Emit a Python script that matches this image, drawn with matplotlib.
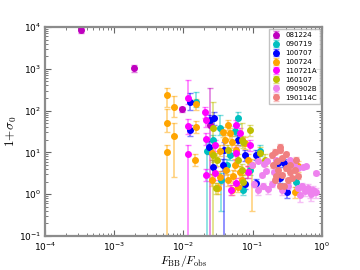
import matplotlib
matplotlib.use("Agg")
import matplotlib.pyplot as plt
import numpy as np

plt.rcParams['mathtext.fontset'] = 'cm'

# ---- data: F_BB/F_obs, 1+sigma0, lower err, upper err ----
grb_names = ['081224', '090719', '100707', '100724', '110721A', '160107', '090902B', '190114C']
grb_colors = ['#bf00bf', '#00bfbf', '#0000ff', '#ffa500', '#ff00ff', '#bfbf00', '#ee82ee', '#f08080']

x_081224 = [3.3e-4, 1.9e-3, 0.0094, 0.024]
y_081224 = [8500, 1050, 110, 45]
lo_081224 = [1200, 200, 15, 44.99]
up_081224 = [1200, 200, 15, 300]

x_090719 = [0.0154, 0.0218, 0.0335, 0.061, 0.0552, 0.0468, 0.0345, 0.0908, 0.127, 0.42, 0.0266, 0.072, 0.042]
y_090719 = [161, 11, 38, 68, 33, 8.6, 2.2, 3.8, 11, 2.0, 19.8, 1.26, 5.0]
lo_090719 = [40, 10.99, 12, 20, 8, 2, 1.8, 1, 3, 0.5, 5, 0.3, 1.5]
up_090719 = [120, 10, 40, 25, 10, 3, 1, 1.5, 4, 0.6, 6, 0.4, 2]

x_100707 = [0.0124, 0.0124, 0.0246, 0.0235, 0.0275, 0.0266, 0.0371, 0.0383, 0.0769, 0.0769,
            0.111, 0.111, 0.230, 0.281, 0.246, 0.31, 0.061]
y_100707 = [161, 34, 60, 13.4, 66, 4.5, 5.0, 11.4, 8.7, 1.8, 8.7, 1.85, 5.6, 5.6, 2.4, 1.13, 19.8]
lo_100707 = [60, 10, 15, 4, 20, 1.5, 1.5, 11.39, 2.5, 0.5, 2, 0.4, 1.2, 1.2, 0.5, 0.3, 5]
up_100707 = [100, 12, 20, 5, 25, 2, 2, 6, 3, 0.6, 3, 0.5, 1.5, 1.5, 0.6, 0.3, 6]

x_100724 = [0.00575, 0.00575, 0.00575, 0.0073, 0.0073, 0.0151, 0.0154, 0.0148, 0.0261, 0.0261,
            0.0313, 0.0335, 0.0371, 0.0437, 0.0468, 0.0499, 0.0437, 0.0499, 0.0769, 0.0849,
            0.0849, 0.061, 0.0517, 0.065, 0.041, 0.0552, 0.0335, 0.0396, 0.448, 0.405,
            0.097, 0.057, 0.07]
y_100724 = [236, 50, 10.3, 120, 24.6, 144, 41, 6.6, 9.6, 2.2,
            1.4, 2.6, 31, 46, 29, 18, 2.2, 1.26, 17, 6.6,
            3.4, 1.5, 2.7, 3.4, 3.8, 5.0, 11, 20, 4.6, 1.1,
            5.0, 11.4, 2.2]
lo_100724 = [113, 20, 10.29, 50, 22, 40, 12, 2, 3, 0.6,
             0.4, 0.8, 8, 12, 8, 5, 0.6, 0.3, 5, 2,
             1, 0.4, 0.8, 1, 1, 1.5, 3, 5, 1.2, 0.3,
             4.6, 3, 0.6]
up_100724 = [110, 60, 5, 100, 25, 50, 15, 2.5, 4, 0.8,
             0.5, 1, 10, 15, 10, 6, 0.8, 0.4, 6, 2.5,
             1.2, 0.5, 1, 1.2, 1.2, 2, 4, 6, 1.5, 0.4,
             2, 4, 0.8]

x_110721A = [0.0116, 0.0116, 0.0116, 0.0204, 0.0211, 0.0211, 0.0211, 0.0284, 0.0284, 0.0583,
             0.065, 0.058, 0.0908, 0.058, 0.049, 0.0849]
y_110721A = [200, 43, 9.2, 93, 60, 21, 2.9, 15, 3.2, 45,
             29, 9.7, 15, 1.9, 1.25, 3.4]
lo_110721A = [60, 15, 9.19, 25, 20, 6, 0.8, 4, 1, 12,
              8, 3, 4, 0.5, 0.3, 1]
up_110721A = [340, 20, 6, 30, 25, 8, 1, 5, 1.2, 15,
              10, 4, 5, 0.6, 0.4, 1.2]

x_160107 = [0.0266, 0.0266, 0.0306, 0.0297, 0.0693, 0.072, 0.0693, 0.072, 0.127, 0.061,
            0.0437, 0.0908, 0.15]
y_160107 = [38, 8.9, 6.6, 1.4, 20, 18, 3.8, 2.0, 9.6, 6.6,
            11.4, 34, 6.6]
lo_160107 = [37.99, 3, 2, 0.4, 6, 5, 1, 0.6, 3, 2,
             3, 10, 2]
up_160107 = [120, 4, 3, 0.5, 30, 7, 1.5, 0.8, 4, 2.5,
             4, 12, 2.5]

x_090902B = [0.097, 0.119, 0.162, 0.155, 0.12, 0.165, 0.14, 0.189, 0.216, 0.343,
             0.392, 0.60, 0.83, 0.448, 0.511, 0.565, 0.624, 0.667, 0.74, 0.814,
             0.478, 0.263, 0.321, 0.135, 0.202, 0.46, 0.104, 0.145, 0.53, 0.70]
y_090902B = [5.0, 6.3, 6.3, 3.6, 1.26, 1.3, 1.6, 1.75, 6.6, 6.6,
             5.0, 4.6, 3.2, 1.41, 1.57, 1.2, 1.41, 1.1, 1.26, 1.13,
             0.95, 1.26, 1.6, 2.9, 3.4, 4.2, 1.75, 5.2, 4.4, 1.0]
lo_090902B = [0.3] * 30
up_090902B = [0.3] * 30

x_190114C = [0.208, 0.227, 0.189, 0.246, 0.27, 0.208, 0.23, 0.263, 0.301, 0.343,
             0.367, 0.321, 0.405, 0.42, 0.195, 0.246, 0.281, 0.343, 0.448, 0.216,
             0.25, 0.30]
y_190114C = [10.5, 6.3, 8.7, 11.4, 7.35, 2.2, 3.8, 2.9, 4.2, 3.4,
             2.44, 2.2, 3.8, 6.6, 5.0, 1.57, 1.6, 5.0, 2.7, 2.7,
             13.5, 9.0]
lo_190114C = [1.5, 1, 1.2, 1.5, 1, 0.3, 0.5, 0.4, 0.6, 0.5,
              0.3, 0.3, 0.5, 1, 0.7, 0.2, 0.2, 0.7, 0.4, 0.4,
              2, 1.2]
up_190114C = lo_190114C

groups = [
    (x_081224, y_081224, lo_081224, up_081224),
    (x_090719, y_090719, lo_090719, up_090719),
    (x_100707, y_100707, lo_100707, up_100707),
    (x_100724, y_100724, lo_100724, up_100724),
    (x_110721A, y_110721A, lo_110721A, up_110721A),
    (x_160107, y_160107, lo_160107, up_160107),
    (x_090902B, y_090902B, lo_090902B, up_090902B),
    (x_190114C, y_190114C, lo_190114C, up_190114C),
]

fig = plt.figure(figsize=(3.6, 2.7), dpi=100)
ax = fig.add_axes([0.125, 0.126, 0.769, 0.774])
ax.set_xscale('log')
ax.set_yscale('log')

for name, col, (xs, ys, lo, up) in zip(grb_names, grb_colors, groups):
    h = ax.errorbar(xs, ys, yerr=[lo, up], fmt='o', color=col, ecolor=col,
                    ms=4, mec=col, elinewidth=1.2, capsize=2, label=name)
    for art in h[1] + h[2]:
        art.set_alpha(0.5)

ax.set_xlim(1e-4, 1)
ax.set_ylim(1e-1, 1e4)
ax.set_xlabel(r'$F_{\rm BB}/F_{\rm obs}$', fontsize=8.5, labelpad=0)
ax.set_ylabel(r'$1\!+\!\sigma_0$', fontsize=9.5, labelpad=0)
ax.tick_params(which='both', direction='in', top=True, right=True, labelsize=6.5,
               color='0.4', pad=3)
ax.tick_params(which='major', length=4)
ax.tick_params(which='minor', length=2)
for sp in ax.spines.values():
    sp.set_color('0.55')
    sp.set_linewidth(1.6)

leg = ax.legend(loc='upper right', fontsize=5, handletextpad=0.6, borderpad=0.45,
                labelspacing=0.42, handlelength=1.3, fancybox=False, numpoints=1,
                borderaxespad=0.3)
leg.get_frame().set_edgecolor('0.7')

fig.savefig('out.png', dpi=100)
